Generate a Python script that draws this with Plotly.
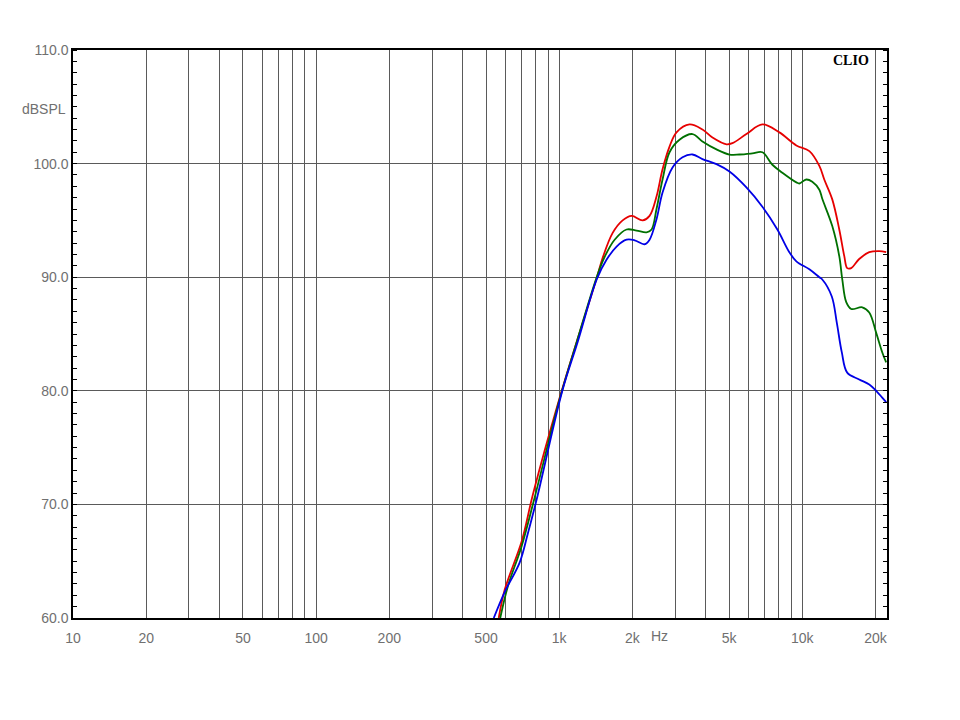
import math
import plotly.graph_objects as go

# ---- data (frequency in Hz, level in dB SPL) ----
red_freq = [564, 597, 702, 778, 1005, 1180, 1426, 1509, 1659, 1823, 1985, 2202, 2353,
            2513, 2661, 2843, 3037, 3435, 3884, 4270, 4875, 5159, 5888, 6850, 8045, 9450,
            10690, 11750, 12310, 13280, 14190, 14880, 15300, 15890, 17140, 18850, 20720, 22130]
red_db = [60.0, 62.5, 66.8, 70.8, 79.4, 84.3, 89.9, 91.7, 93.9, 95.0, 95.4, 95.0, 95.4,
          97.1, 99.5, 101.5, 102.75, 103.45, 103.0, 102.3, 101.7, 101.8, 102.6, 103.45, 102.75, 101.6,
          101.1, 99.8, 98.6, 96.85, 94.2, 91.85, 90.8, 90.8, 91.6, 92.2, 92.3, 92.2]

green_freq = [572, 615, 700, 790, 1005, 1180, 1426, 1538, 1690, 1893, 2081, 2288, 2399, 2513,
              2661, 2843, 3125, 3534, 3884, 4435, 5015, 5511, 6233, 6850, 7531, 8278, 9450,
              9720, 10380, 10990, 11750, 12080, 13280, 14190, 14600, 15160, 15890, 17640, 18850,
              20130, 21310, 22130]
green_db = [60.0, 62.8, 66.3, 70.5, 79.3, 84.3, 90.0, 91.8, 93.3, 94.2, 94.1, 93.95, 94.2, 96.0,
            98.6, 101.0, 102.1, 102.6, 101.95, 101.25, 100.8, 100.8, 100.9, 101.0, 99.9, 99.2, 98.35,
            98.25, 98.6, 98.4, 97.7, 96.9, 94.5, 91.85, 89.8, 87.8, 87.2, 87.35, 86.9,
            85.1, 83.4, 82.5]

blue_freq = [538, 597, 688, 742, 808, 1030, 1191, 1426, 1567, 1722, 1893, 2043, 2245, 2353,
             2513, 2661, 2925, 3215, 3534, 3884, 4435, 5015, 5888, 6850, 7895, 8843, 9450,
             10690, 11750, 12080, 13220, 13860, 14530, 15300, 17140, 18850, 20130, 21310, 22130]
blue_db = [60.0, 62.3, 64.9, 67.4, 70.45, 80.0, 84.3, 89.8, 91.55, 92.7, 93.3, 93.25, 92.9, 93.3,
           95.1, 97.45, 99.65, 100.55, 100.8, 100.4, 99.95, 99.3, 97.9, 96.2, 94.2, 92.2, 91.4,
           90.7, 90.0, 89.8, 88.3, 86.0, 83.4, 81.6, 81.0, 80.55, 80.0, 79.4, 79.0]

# grid lines on the frequency axis, with labels
x_grid = [10, 20, 30, 40, 50, 60, 70, 80, 90,
          100, 200, 300, 400, 500, 600, 700, 800, 900,
          1000, 2000, 3000, 4000, 5000, 6000, 7000, 8000, 9000,
          10000, 20000]
x_labels = ["10", "20", "", "", "50", "", "", "", "",
            "100", "200", "", "", "500", "", "", "", "",
            "1k", "2k", "", "", "5k", "", "", "", "",
            "10k", "20k"]
y_ticks = [60, 70, 80, 90, 100, 110]
y_labels = ["60.0", "70.0", "80.0", "90.0", "100.0", "110.0"]

FONT = "Liberation Sans, Arial, sans-serif"
LABEL_COLOR = "#707070"
GRID = "#5a5a5a"

fig = go.Figure()
for f, d, c in [(red_freq, red_db, "#e60000"),
                (green_freq, green_db, "#007000"),
                (blue_freq, blue_db, "#0000e6")]:
    fig.add_trace(go.Scatter(x=f, y=d, mode="lines",
                             line=dict(color=c, width=1.8, shape="spline", smoothing=1.0),
                             showlegend=False, hoverinfo="skip"))

fig.update_layout(
    width=960, height=720,
    margin=dict(l=65, r=81, t=42, b=110),
    paper_bgcolor="white", plot_bgcolor="white",
    showlegend=False,
    xaxis=dict(
        type="log", range=[1, math.log10(22300)],
        tickmode="array", tickvals=x_grid, ticktext=x_labels,
        showgrid=True, gridcolor=GRID, gridwidth=1,
        showline=True, linecolor="black", linewidth=1.5, mirror=True,
        ticks="", zeroline=False, ticklabelstandoff=6,
        tickfont=dict(family=FONT, size=14, color=LABEL_COLOR),
    ),
    yaxis=dict(
        range=[60, 110],
        tickmode="array", tickvals=y_ticks, ticktext=y_labels,
        showgrid=True, gridcolor=GRID, gridwidth=1,
        showline=True, linecolor="black", linewidth=1.5, mirror="ticks",
        ticks="", zeroline=False,
        minor=dict(dtick=1, tick0=60, ticks="inside", ticklen=4, tickcolor="black",
                   tickwidth=1, showgrid=False),
        tickfont=dict(family=FONT, size=14, color=LABEL_COLOR),
    ),
    annotations=[
        dict(text="dBSPL", xref="paper", yref="y", x=-0.006, y=104.8,
             xanchor="right", yanchor="middle", showarrow=False,
             font=dict(family=FONT, size=14, color=LABEL_COLOR)),
        dict(text="Hz", xref="x", yref="paper", x=math.log10(2590), y=-0.0317,
             xanchor="center", yanchor="middle", showarrow=False,
             font=dict(family=FONT, size=14, color=LABEL_COLOR)),
        dict(text="<b>CLIO</b>", xref="paper", yref="paper", x=0.98, y=0.981,
             xanchor="right", yanchor="middle", showarrow=False,
             font=dict(family="Liberation Serif, Times New Roman, serif", size=14, color="black")),
    ],
)

fig.write_html("out.html")
